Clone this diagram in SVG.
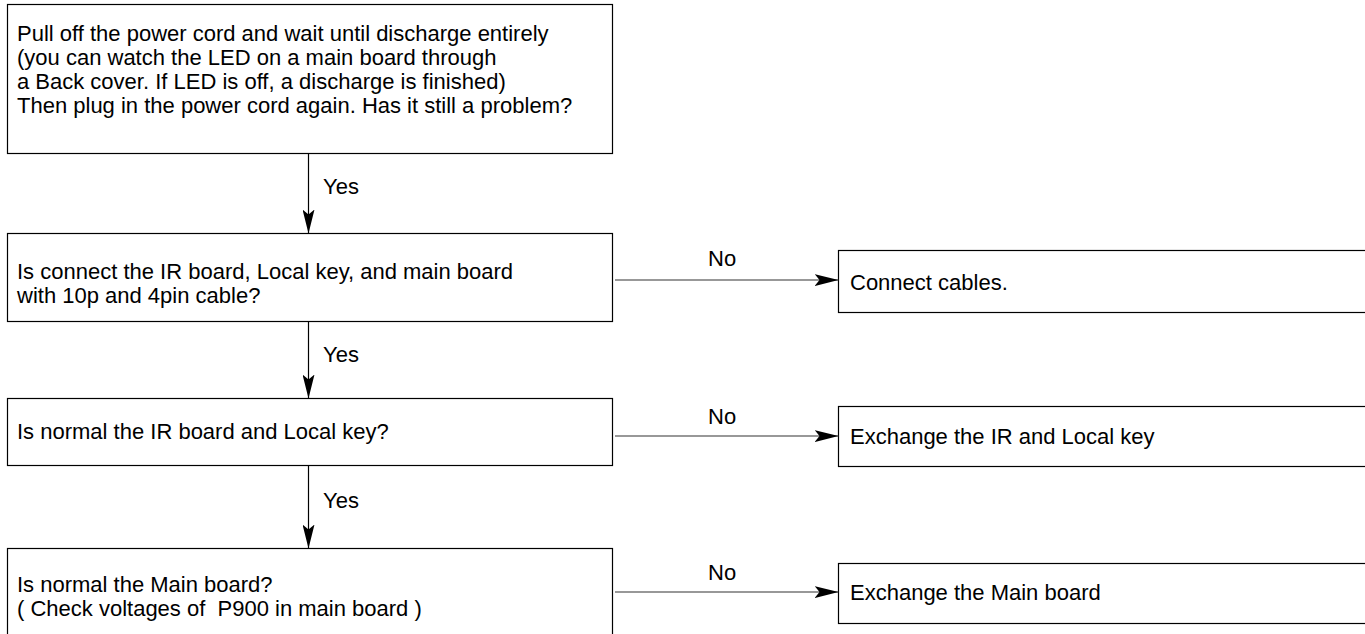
<svg xmlns="http://www.w3.org/2000/svg" width="1365" height="634" viewBox="0 0 1365 634">
<style>
  .box { fill: #ffffff; stroke: #000000; stroke-width: 1.2; }
  .t { font-family: "Liberation Sans", Arial, sans-serif; font-size: 22px; fill: #000000; white-space: pre; }
  .ln { stroke: #000000; stroke-width: 1.2; fill: none; }
  .lh { stroke: #333333; stroke-width: 1.2; fill: none; }
</style>
<defs>
  <marker id="ah" viewBox="0 0 24 12" refX="24" refY="6" markerWidth="24" markerHeight="12" markerUnits="userSpaceOnUse" orient="auto">
    <path d="M0,0 L24,6 L0,12 L5,6 Z" fill="#000000"/>
  </marker>
</defs>
<rect width="1365" height="634" fill="#ffffff"/>

<g id="n1">
  <rect class="box" x="7.5" y="4.5" width="605" height="149"/>
  <text class="t" x="17" y="41">Pull off the power cord and wait until discharge entirely</text>
  <text class="t" x="17" y="65">(you can watch the LED on a main board through</text>
  <text class="t" x="17" y="89">a Back cover. If LED is off, a discharge is finished)</text>
  <text class="t" x="17" y="113">Then plug in the power cord again. Has it still a problem?</text>
</g>
<g id="n2">
  <rect class="box" x="7.5" y="233.5" width="605" height="88"/>
  <text class="t" x="17" y="279">Is connect the IR board, Local key, and main board</text>
  <text class="t" x="17" y="303">with 10p and 4pin cable?</text>
</g>
<g id="n3">
  <rect class="box" x="7.5" y="398.5" width="605" height="67"/>
  <text class="t" x="17" y="439">Is normal the IR board and Local key?</text>
</g>
<g id="n4">
  <rect class="box" x="7.5" y="548.5" width="605" height="100"/>
  <text class="t" x="17" y="592">Is normal the Main board?</text>
  <text class="t" x="17" y="616">( Check voltages of  P900 in main board )</text>
</g>
<g id="r2">
  <rect class="box" x="838.5" y="250.5" width="540" height="62"/>
  <text class="t" x="850" y="290">Connect cables.</text>
</g>
<g id="r3">
  <rect class="box" x="838.5" y="406.5" width="540" height="60"/>
  <text class="t" x="850" y="444">Exchange the IR and Local key</text>
</g>
<g id="r4">
  <rect class="box" x="838.5" y="563.5" width="540" height="60"/>
  <text class="t" x="850" y="600">Exchange the Main board</text>
</g>

<g id="connectors">
  <line class="ln" x1="308.5" y1="153.5" x2="308.5" y2="233.5" marker-end="url(#ah)"/>
  <line class="ln" x1="308.5" y1="321.5" x2="308.5" y2="398.5" marker-end="url(#ah)"/>
  <line class="ln" x1="308.5" y1="465.5" x2="308.5" y2="548.5" marker-end="url(#ah)"/>
  <line class="lh" x1="615" y1="280" x2="838.5" y2="280" marker-end="url(#ah)"/>
  <line class="lh" x1="615" y1="436" x2="838.5" y2="436" marker-end="url(#ah)"/>
  <line class="lh" x1="615" y1="592" x2="838.5" y2="592" marker-end="url(#ah)"/>
  <text class="t" x="323" y="194">Yes</text>
  <text class="t" x="323" y="362">Yes</text>
  <text class="t" x="323" y="508">Yes</text>
  <text class="t" x="708" y="266">No</text>
  <text class="t" x="708" y="424">No</text>
  <text class="t" x="708" y="580">No</text>
</g>
</svg>
